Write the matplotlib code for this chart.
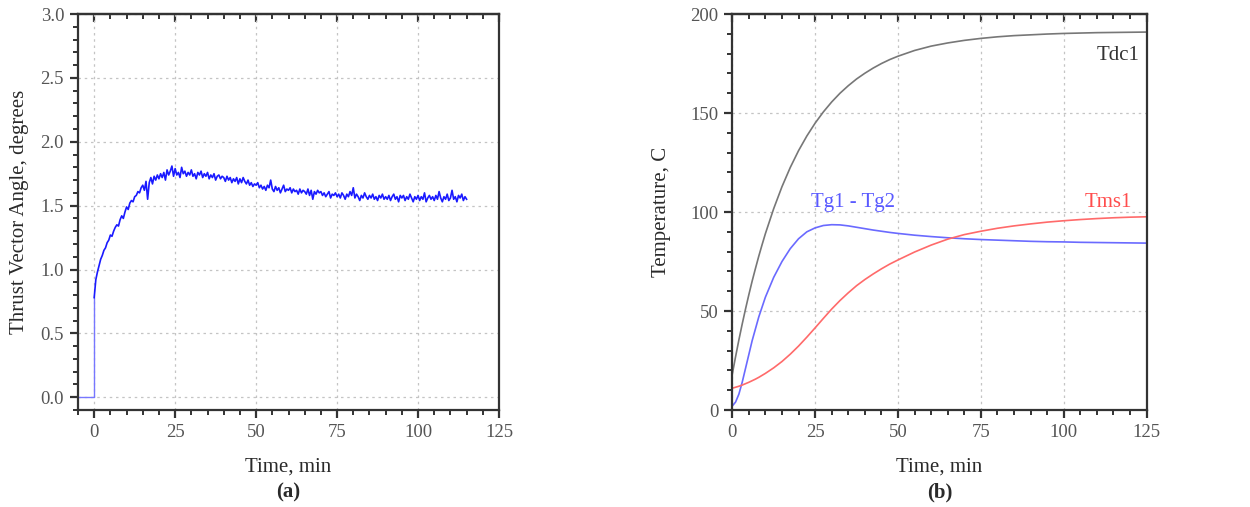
import numpy as np
import matplotlib
matplotlib.use("Agg")
import matplotlib.pyplot as plt
from matplotlib.ticker import MultipleLocator

plt.rcParams['font.family'] = ['Liberation Serif', 'DejaVu Serif']

# (a) thrust vector angle, sampled every 0.5 min from 0 to 115 min
tva_start_time = [-5, 0]
tva_start_angle = [0.0, 0.0]
tva_angle = [
    0.78, 0.92, 0.98, 1.03, 1.08, 1.11, 1.15, 1.17, 1.21, 1.23,
    1.27, 1.26, 1.30, 1.33, 1.35, 1.34, 1.39, 1.42, 1.40, 1.45,
    1.49, 1.47, 1.52, 1.54, 1.53, 1.57, 1.58, 1.61, 1.60, 1.64,
    1.66, 1.62, 1.69, 1.55, 1.68, 1.72, 1.67, 1.73, 1.70, 1.74,
    1.71, 1.75, 1.72, 1.76, 1.70, 1.78, 1.74, 1.77, 1.81, 1.73,
    1.79, 1.74, 1.76, 1.72, 1.80, 1.75, 1.77, 1.73, 1.76, 1.74,
    1.78, 1.73, 1.75, 1.71, 1.76, 1.74, 1.77, 1.72, 1.75, 1.73,
    1.76, 1.71, 1.74, 1.72, 1.75, 1.70, 1.73, 1.74, 1.71, 1.73,
    1.72, 1.69, 1.73, 1.70, 1.72, 1.68, 1.71, 1.69, 1.72, 1.67,
    1.71, 1.68, 1.72, 1.69, 1.67, 1.70, 1.66, 1.68, 1.65, 1.67,
    1.66, 1.68, 1.64, 1.66, 1.63, 1.65, 1.62, 1.66, 1.64, 1.70,
    1.63, 1.61, 1.65, 1.62, 1.64, 1.60, 1.63, 1.66, 1.61, 1.63,
    1.62, 1.64, 1.60, 1.63, 1.61, 1.62, 1.59, 1.63, 1.60, 1.62,
    1.61, 1.59, 1.63, 1.58, 1.62, 1.55, 1.61, 1.59, 1.62, 1.60,
    1.61, 1.58, 1.60, 1.57, 1.59, 1.61, 1.56, 1.59, 1.58, 1.60,
    1.57, 1.59, 1.56, 1.60, 1.58, 1.55, 1.59, 1.57, 1.61, 1.58,
    1.64, 1.56, 1.59, 1.57, 1.54, 1.58, 1.56, 1.60, 1.57, 1.55,
    1.58, 1.56, 1.59, 1.55, 1.57, 1.54, 1.58, 1.56, 1.59, 1.55,
    1.57, 1.55, 1.58, 1.54, 1.57, 1.59, 1.55, 1.57, 1.53, 1.58,
    1.56, 1.58, 1.54, 1.57, 1.55, 1.59, 1.56, 1.53, 1.57, 1.55,
    1.58, 1.54, 1.57, 1.55, 1.60, 1.53, 1.56, 1.58, 1.55, 1.57,
    1.54, 1.58, 1.55, 1.61, 1.56, 1.53, 1.57, 1.55, 1.59, 1.54,
    1.56, 1.62, 1.55, 1.57, 1.53, 1.58, 1.56, 1.59, 1.54, 1.57,
    1.55,
]
tva_time = np.arange(len(tva_angle)) * 0.5

# (b) temperatures
temp_time = [0, 1, 2, 3, 4, 5, 6, 7, 8, 9, 10, 12.5, 15, 17.5, 20, 22.5, 25, 27.5,
             30, 32.5, 35, 37.5, 40, 42.5, 45, 47.5, 50, 55, 60, 65, 70, 75, 80,
             85, 90, 95, 100, 105, 110, 115, 120, 125]
tdc1 = [18.0, 26.9, 35.4, 43.4, 51.0, 58.2, 65.1, 71.5, 77.7, 83.5, 89.1, 101.7,
        112.8, 122.5, 131.0, 138.4, 144.9, 150.6, 155.6, 160.0, 163.8, 167.2,
        170.1, 172.7, 175.0, 177.0, 178.7, 181.6, 183.8, 185.4, 186.7, 187.7,
        188.5, 189.1, 189.5, 189.9, 190.2, 190.4, 190.6, 190.7, 190.8, 190.9]
tg_diff = [2.0, 4.0, 8.0, 14.0, 21.0, 28.0, 35.0, 41.0, 47.0, 52.0, 57.0, 67.0,
           75.0, 81.5, 86.5, 90.0, 92.0, 93.2, 93.6, 93.5, 93.0, 92.3, 91.6,
           90.9, 90.3, 89.7, 89.2, 88.3, 87.6, 87.0, 86.5, 86.1, 85.8, 85.5,
           85.2, 85.0, 84.9, 84.7, 84.6, 84.5, 84.4, 84.3]
tms1 = [11.0, 11.5, 12.0, 12.6, 13.3, 14.0, 14.8, 15.6, 16.5, 17.5, 18.5, 21.3,
        24.5, 28.2, 32.3, 36.8, 41.5, 46.3, 51.0, 55.3, 59.2, 62.8, 65.9, 68.7,
        71.3, 73.7, 75.8, 79.8, 83.3, 86.3, 88.6, 90.3, 91.8, 93.0, 94.0, 94.9,
        95.6, 96.2, 96.7, 97.1, 97.4, 97.6]

spine_c = '#333333'
text_c = '#2a2a2a'
tick_c = '#555555'


def style_axes(ax, xminor, yminor):
    for s in ax.spines.values():
        s.set_color(spine_c)
        s.set_linewidth(1.6)
    ax.xaxis.set_major_locator(MultipleLocator(25))
    ax.xaxis.set_minor_locator(MultipleLocator(xminor))
    ax.yaxis.set_minor_locator(MultipleLocator(yminor))
    ax.tick_params(which='major', direction='out', length=6, width=1.6,
                   color=spine_c, labelsize=13.5, labelcolor=tick_c, pad=4)
    ax.tick_params(which='minor', direction='out', length=3.5, width=1.4,
                   color=spine_c)
    ax.grid(True, which='major', color='#c4c4c4', linestyle=(0, (2, 3)),
            linewidth=0.9)
    top = ax.secondary_xaxis('top')
    top.xaxis.set_major_locator(MultipleLocator(25))
    top.xaxis.set_minor_locator(MultipleLocator(xminor))
    top.tick_params(which='major', direction='in', length=6, width=1.6,
                    color=spine_c, labeltop=False)
    top.tick_params(which='minor', direction='in', length=3.5, width=1.4,
                    color=spine_c)
    top.spines['top'].set_color(spine_c)
    top.spines['top'].set_linewidth(1.6)


fig = plt.figure(figsize=(12.5, 5.07), dpi=100)
ax1 = fig.add_axes([0.0624, 0.1913, 0.3368, 0.781])
ax2 = fig.add_axes([0.5858, 0.1913, 0.3315, 0.781])

# panel (a)
ax1.plot(tva_start_time + [0], tva_start_angle + [tva_angle[0]],
         color='#7777ff', linewidth=1.0)
ax1.plot(tva_time, tva_angle, color='#1a1aff', linewidth=1.2)
ax1.set_xlim(-5, 125)
ax1.set_ylim(-0.1, 3.0)
ax1.yaxis.set_major_locator(MultipleLocator(0.5))
ax1.yaxis.set_major_formatter(matplotlib.ticker.FormatStrFormatter('%.1f'))
style_axes(ax1, 5, 0.1)
ax1.set_xlabel('Time, min', fontsize=15, color=text_c, labelpad=12)
ax1.set_ylabel('Thrust Vector Angle, degrees', fontsize=15, color=text_c,
               labelpad=8)
fig.text(0.2308, 0.018, '(a)', fontsize=15, fontweight='bold', color=text_c,
         ha='center')

# panel (b)
ax2.plot(temp_time, tdc1, color='#777777', linewidth=1.2)
ax2.plot(temp_time, tg_diff, color='#6a6aff', linewidth=1.2)
ax2.plot(temp_time, tms1, color='#ff6a6a', linewidth=1.2)
ax2.set_xlim(0, 125)
ax2.set_ylim(0, 200)
ax2.yaxis.set_major_locator(MultipleLocator(50))
style_axes(ax2, 5, 10)
ax2.text(116.5, 179, 'Tdc1', fontsize=15, color='#333333', ha='center',
         va='center')
ax2.text(113.5, 105, 'Tms1', fontsize=15, color='#ff4d4d', ha='center',
         va='center')
ax2.text(36.5, 105, 'Tg1 - Tg2', fontsize=15, color='#5a5aff', ha='center',
         va='center')
ax2.set_xlabel('Time, min', fontsize=15, color=text_c, labelpad=12)
ax2.set_ylabel('Temperature, C', fontsize=15, color=text_c, labelpad=14)
fig.text(0.7516, 0.018, '(b)', fontsize=15, fontweight='bold', color=text_c,
         ha='center')

fig.savefig('out.png', dpi=100)
